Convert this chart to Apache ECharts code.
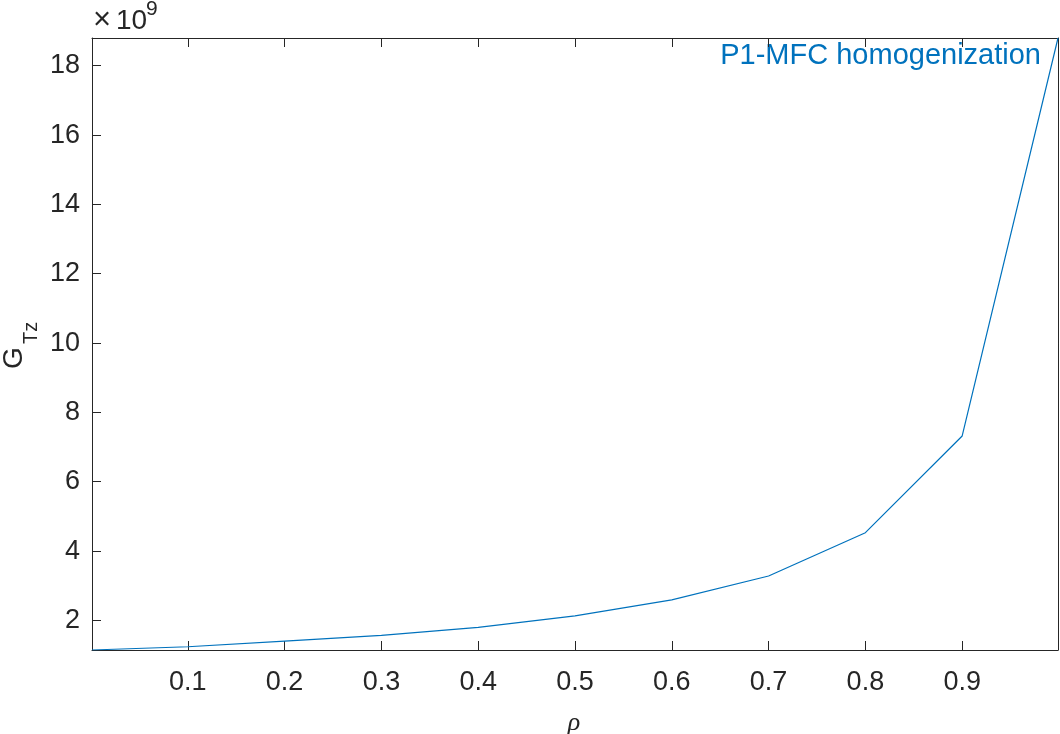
<!DOCTYPE html>
<html>
<head>
<meta charset="utf-8">
<script src="https://cdn.jsdelivr.net/npm/echarts@6/dist/echarts.min.js"></script>
<style>
html,body{margin:0;padding:0;background:#fff;}
#chart{width:1060px;height:734px;}
</style>
</head>
<body>
<div id="chart"></div>
<script>
// rho values (x) and G_Tz values (in units of 1e9)
var rhoValues = [0.001, 0.1, 0.2, 0.3, 0.4, 0.5, 0.6, 0.7, 0.8, 0.9, 0.999];
var gTzValues = [1.146, 1.24, 1.40, 1.57, 1.80, 2.13, 2.59, 3.28, 4.53, 7.32, 18.80];
var seriesName = 'P1-MFC homogenization';
var xMin = 0.001, xMax = 0.999;

var data = rhoValues.map(function (x, i) { return [x, gTzValues[i]]; });
var axisColor = '#262626';
var font = 'Liberation Sans, Arial, Helvetica, sans-serif';

var chart = echarts.init(document.getElementById('chart'), null, {renderer: 'canvas'});

function xAxisCfg(pos, showLabels) {
  return {
    type: 'value', position: pos, min: xMin, max: xMax, splitNumber: 10,
    axisLine: {show: true, onZero: false, lineStyle: {color: axisColor, width: 1}},
    axisTick: {show: true, inside: true, length: 9, lineStyle: {color: axisColor, width: 1}},
    axisLabel: {show: showLabels, showMinLabel: false, showMaxLabel: false, margin: 19,
      color: axisColor, fontSize: 27, fontFamily: font,
      formatter: function (v) { return (Math.round(v * 10) / 10).toString(); }},
    splitLine: {show: false}
  };
}
function yAxisCfg(pos, showLabels) {
  return {
    type: 'value', position: pos,
    min: function (e) { return e.min; }, max: function (e) { return e.max; },
    splitNumber: 9,
    axisLine: {show: true, onZero: false, lineStyle: {color: axisColor, width: 1}},
    axisTick: {show: true, inside: true, length: 9, lineStyle: {color: axisColor, width: 1}},
    axisLabel: {show: showLabels, showMinLabel: false, showMaxLabel: false, margin: 12,
      color: axisColor, fontSize: 27, fontFamily: font, padding: [5, 0, 0, 0],
      formatter: function (v) { return Math.round(v).toString(); }},
    splitLine: {show: false}
  };
}

var option = {
  backgroundColor: '#ffffff',
  animation: false,
  grid: {left: 92, right: 2, top: 38, bottom: 84, containLabel: false},
  xAxis: [xAxisCfg('bottom', true), xAxisCfg('top', false)],
  yAxis: [yAxisCfg('left', true), yAxisCfg('right', false)],
  series: [{
    name: seriesName, type: 'line', data: data, xAxisIndex: 0, yAxisIndex: 0,
    showSymbol: false, symbol: 'none',
    lineStyle: {color: '#0072BD', width: 1.2}, itemStyle: {color: '#0072BD'}
  }],
  graphic: [
    {type: 'text', right: 19, top: 41, style: {text: seriesName, fill: '#0072BD',
      font: '29px ' + font}},
    {type: 'text', left: 93, top: 5, style: {text: '×', fill: axisColor, font: '31px ' + font}},
    {type: 'text', left: 116, top: 7, style: {text: '10', fill: axisColor, font: '28px ' + font}},
    {type: 'text', left: 146, top: -1, style: {text: '9', fill: axisColor, font: '21px ' + font}},
    {type: 'text', x: 0, y: 369, rotation: Math.PI / 2, style: {text: 'G', fill: axisColor,
      font: '28px ' + font, textAlign: 'left', textVerticalAlign: 'top'}},
    {type: 'text', x: 21, y: 344, rotation: Math.PI / 2, style: {text: 'Tz', fill: axisColor,
      font: '20px ' + font, textAlign: 'left', textVerticalAlign: 'top'}},
    {type: 'text', x: 574, y: 710, style: {text: 'ρ', fill: axisColor,
      font: 'italic 26px Liberation Serif, Times New Roman, serif', textAlign: 'center', textVerticalAlign: 'top'}}
  ]
};
chart.setOption(option);
</script>
</body>
</html>
